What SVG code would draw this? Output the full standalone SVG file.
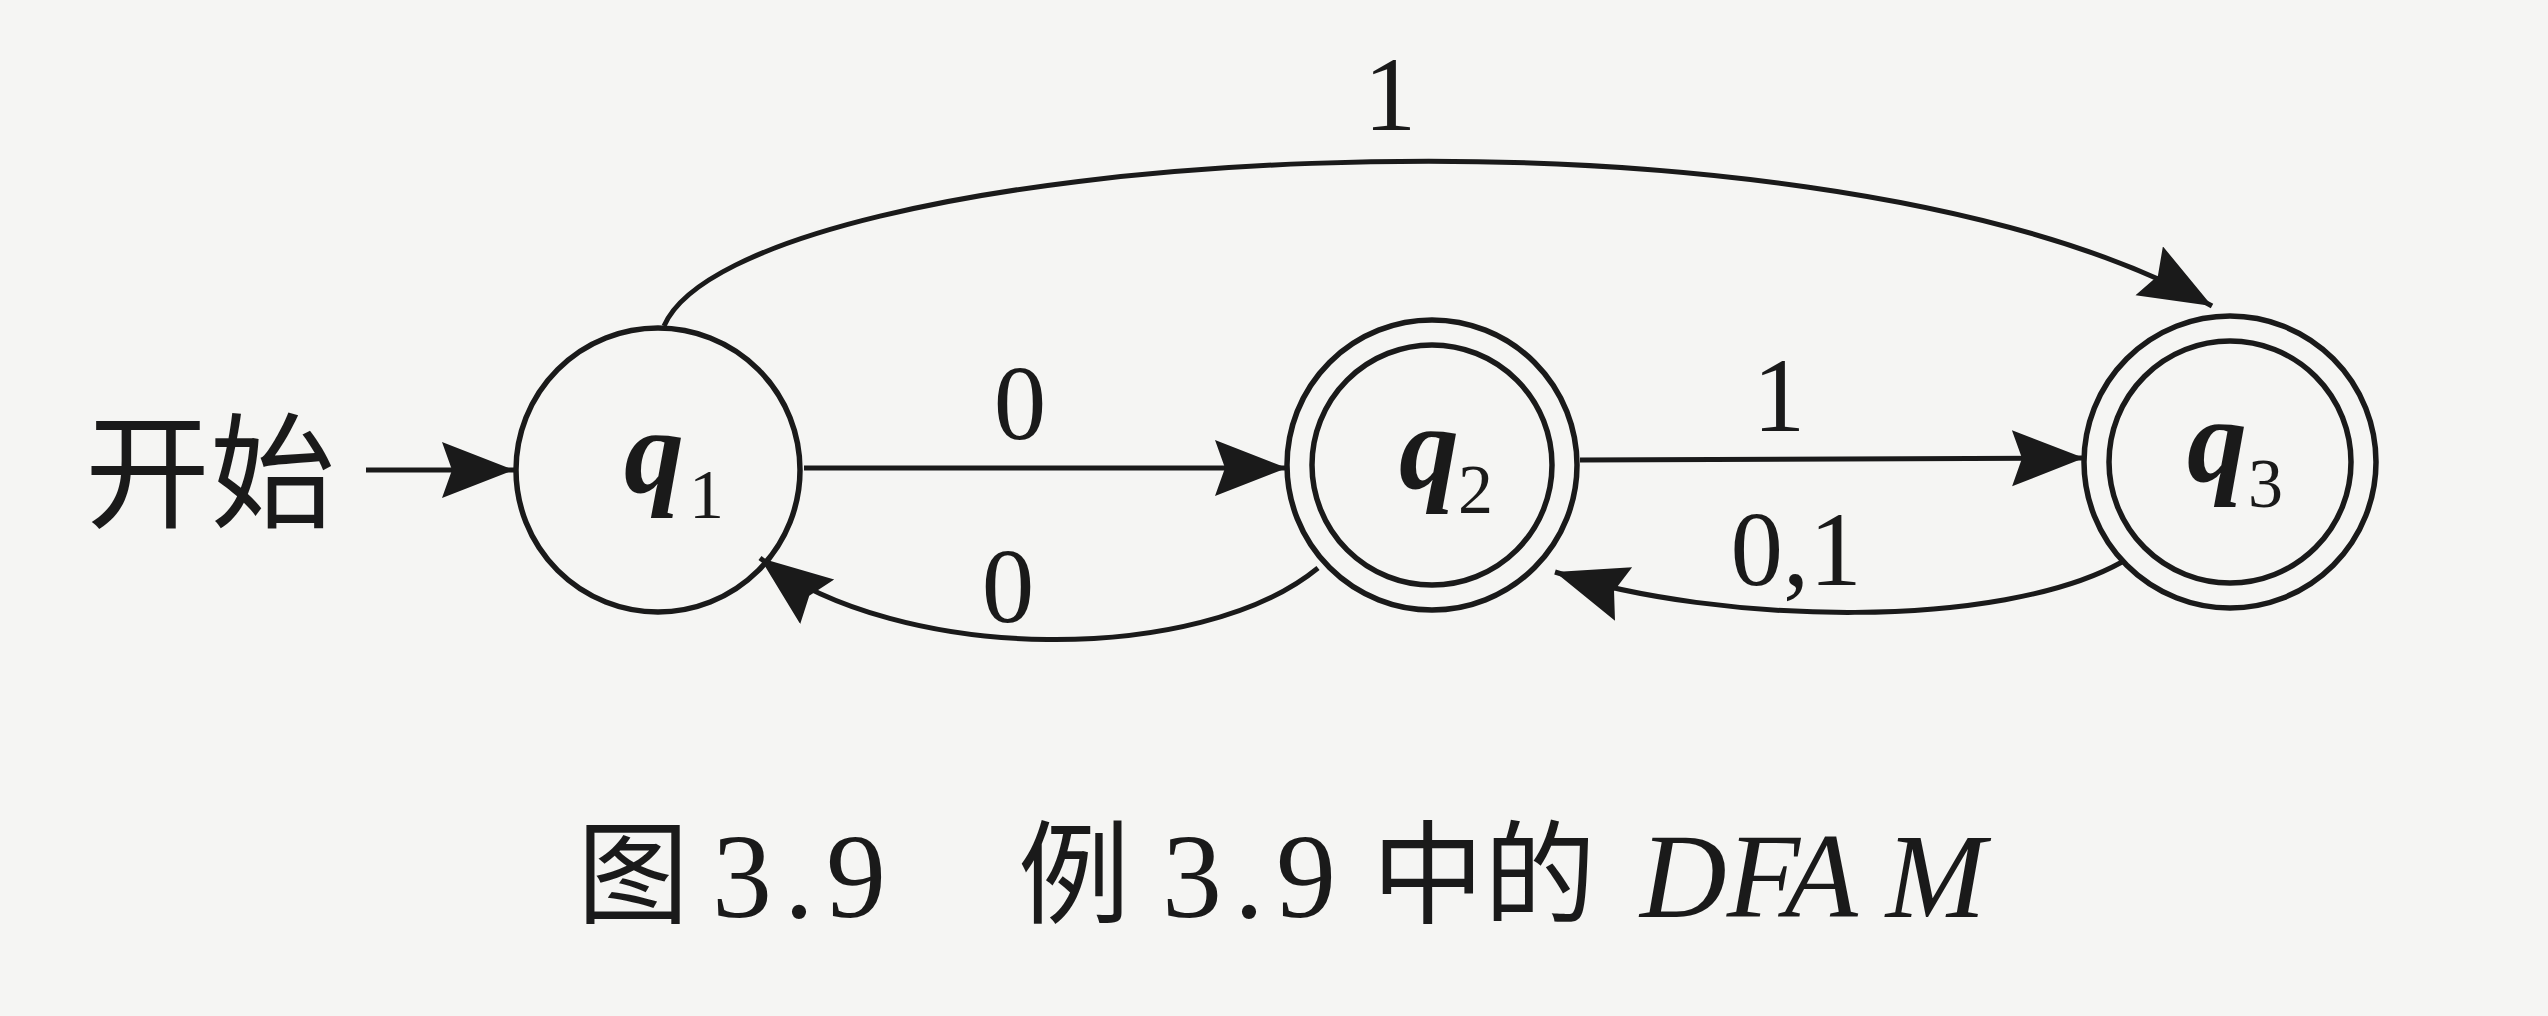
<svg xmlns="http://www.w3.org/2000/svg" width="2548" height="1016" viewBox="0 0 2548 1016">
  <defs>
    <marker id="arrow" markerUnits="userSpaceOnUse" markerWidth="76" markerHeight="58" refX="72" refY="28" orient="auto" viewBox="0 0 76 58">
      <path d="M0,0 L72,28 L0,56 L10,28 z" fill="#1a1a1a"/>
    </marker>
    <style>
      .st { fill: none; stroke: #1a1a1a; stroke-width: 5.5; }
      .edge { fill: none; stroke: #1a1a1a; stroke-width: 5; marker-end: url(#arrow); }
      .q { font-family: "Liberation Serif", serif; font-style: italic; font-weight: bold; font-size: 120px; fill: #1a1a1a; }
      .sub { font-family: "Liberation Serif", serif; font-size: 70px; fill: #1a1a1a; }
      .lbl { font-family: "Liberation Serif", serif; font-size: 105px; fill: #1a1a1a; text-anchor: middle; }
      .cjk { font-family: "Noto Sans CJK SC", sans-serif; fill: #1a1a1a; }
      .cap { font-family: "Liberation Serif", serif; font-size: 120px; fill: #1a1a1a; }
    </style>
  </defs>
  <rect width="2548" height="1016" fill="#f5f5f3"/>

  <g id="start">
    <text class="cjk" x="85" y="518" font-size="125">开始</text>
  </g>

  <g id="q1">
    <circle class="st" cx="658" cy="470" r="142"/>
    <text class="q" x="624" y="492">q</text>
    <text class="sub" x="689" y="518">1</text>
  </g>

  <g id="q2">
    <circle class="st" cx="1432" cy="465" r="145"/>
    <circle class="st" cx="1432" cy="465" r="120"/>
    <text class="q" x="1399" y="488">q</text>
    <text class="sub" x="1458" y="513">2</text>
  </g>

  <g id="q3">
    <circle class="st" cx="2230" cy="462" r="146"/>
    <circle class="st" cx="2230" cy="462" r="121"/>
    <text class="q" x="2187" y="481">q</text>
    <text class="sub" x="2248" y="507">3</text>
  </g>

  <g id="connectors">
    <path class="edge" d="M366,470 L514,470"/>
    <path class="edge" d="M804,468 L1287,468"/>
    <path class="edge" d="M1580,460 L2084,458"/>
    <path class="edge" d="M1318,568 C1200,665 900,665 760,558"/>
    <path class="edge" d="M2122,562 C2000,630 1720,625 1555,572"/>
    <path class="edge" d="M664,326 C740,150 1800,75 2212,306"/>
    <text class="lbl" x="1390" y="130">1</text>
    <text class="lbl" x="1020" y="439">0</text>
    <text class="lbl" x="1008" y="622">0</text>
    <text class="lbl" x="1779" y="431">1</text>
    <text class="lbl" x="1796" y="585">0,1</text>
  </g>

  <g id="caption">
    <text class="cjk" x="577" y="915" font-size="112">图</text>
    <text class="cap" x="712" y="917" letter-spacing="12">3.9</text>
    <text class="cjk" x="1018" y="915" font-size="112">例</text>
    <text class="cap" x="1162" y="917" letter-spacing="12">3.9</text>
    <text class="cjk" x="1372" y="915" font-size="112">中的</text>
    <text class="cap" x="1640" y="917" font-style="italic">DFA M</text>
  </g>
</svg>
